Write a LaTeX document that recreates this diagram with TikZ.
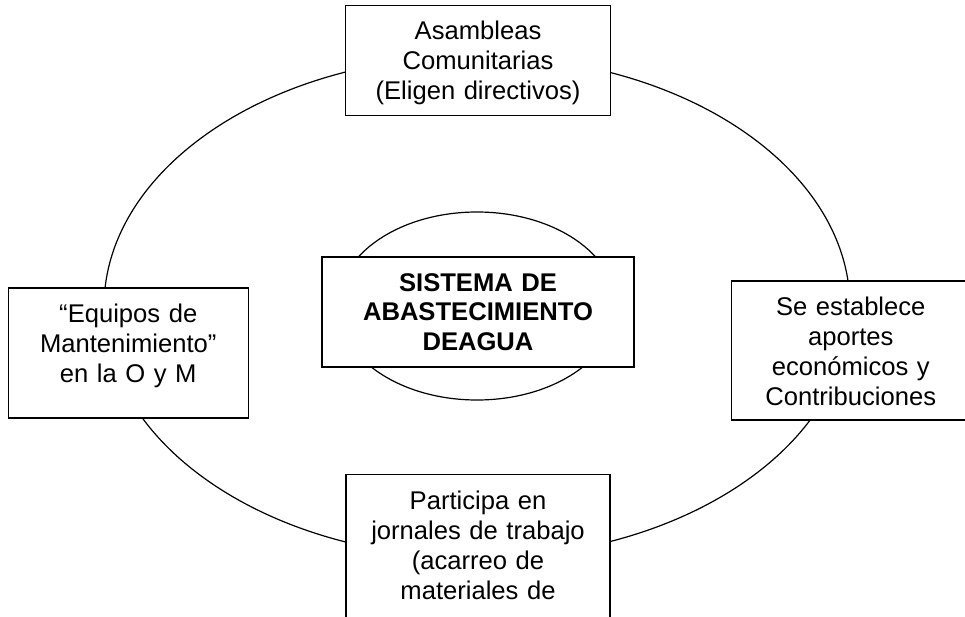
\documentclass[tikz,border=0pt]{standalone}
\usepackage{fontspec}
\setmainfont{Liberation Sans}
\usetikzlibrary{positioning}

\begin{document}
\begin{tikzpicture}[x=1pt,y=1pt,font=\fontsize{25.6}{30}\selectfont]
\tikzstyle{caja}=[draw,fill=white,line width=1.3pt,align=center,inner xsep=4pt,inner ysep=16pt,text height=18.5pt]

\useasboundingbox (0,0) rectangle (965,616);
\draw[line width=1.2pt] (477,309) ellipse [x radius=373,y radius=251];
\draw[line width=1.2pt] (477,310) ellipse [x radius=139,y radius=94];

\node[caja,line width=2.2pt,text width=304pt,text depth=59.5pt,font=\fontsize{25.6}{29.5}\selectfont\bfseries] (sis) at (478,304) {SISTEMA DE\\ABASTECIMIENTO\\DEAGUA};
\node[caja,text width=257pt,text depth=59.5pt] (asam) [above=140pt of sis] {Asambleas\\Comunitarias\\(Eligen directivos)};
\node[caja,text width=256pt,text depth=130pt] (jorn) [below=106pt of sis] {Participa en\\jornales de trabajo\\(acarreo de\\materiales de};
\node[caja,text width=232pt,text depth=79.5pt] (mant) [left=72pt of sis,yshift=-41pt] {“Equipos de\\Mantenimiento”\\en la O y M};
\node[caja,text width=230pt,text depth=88.5pt] (apor) [right=96pt of sis,yshift=-38.5pt] {Se establece\\aportes\\económicos y\\Contribuciones};
\end{tikzpicture}
\end{document}
